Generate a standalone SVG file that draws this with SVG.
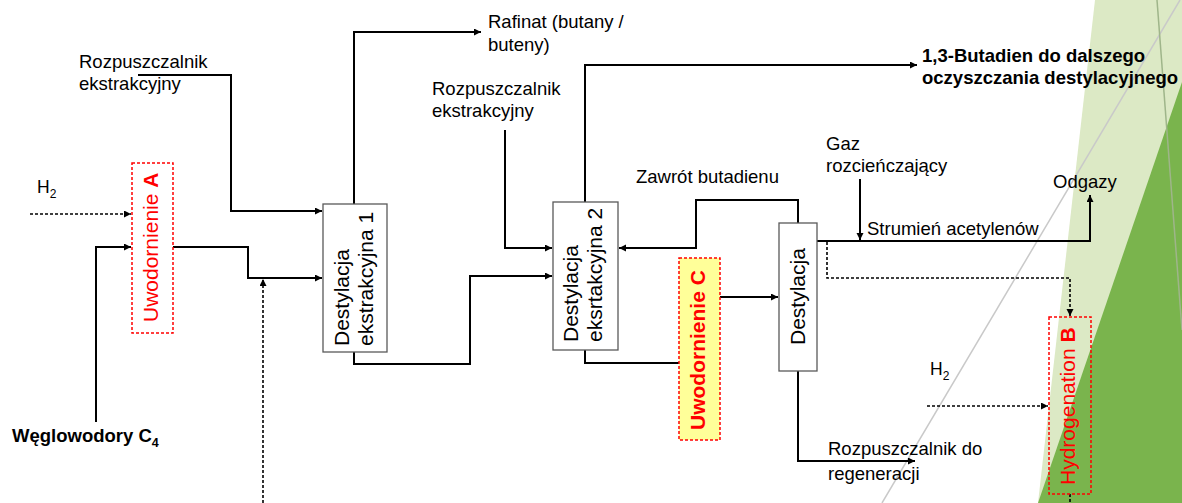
<svg xmlns="http://www.w3.org/2000/svg" width="1182" height="503" viewBox="0 0 1182 503">
<style>
text{font-family:"Liberation Sans",Arial,sans-serif;font-size:18.5px;fill:#000}
.lbl{font-size:21px}
.red{fill:#ff0000}
.b{font-weight:bold}
.box{fill:#fff;stroke:#595959;stroke-width:1.3}
.rbox{fill:none;stroke:#ff0000;stroke-width:1.5;stroke-dasharray:3,2}
.ln{fill:none;stroke:#000;stroke-width:2}
.dl{fill:none;stroke:#000;stroke-width:1.6;stroke-dasharray:3,2}
</style>
<defs>
<marker id="ah" markerUnits="userSpaceOnUse" markerWidth="8" markerHeight="8" refX="7" refY="3.5" orient="auto">
<path d="M0,0 L7,3.5 L0,7 z" fill="#000"/>
</marker>
</defs>
<rect width="1182" height="503" fill="#fff"/>
<g id="background">
<polygon points="1095,0 1182,0 1182,503 1038,503" fill="#dce9c5"/>
<polygon points="1182,82 1182,503 1038,503" fill="#7ab44d"/>
<line x1="1180" y1="0" x2="882" y2="503" stroke="#c9c9c9" stroke-width="1.5"/>
<line x1="1157" y1="0" x2="1182" y2="330" stroke="#9fb58a" stroke-width="1.5"/>
</g>
<g id="connectors">
<path class="ln" d="M138,75 H231 V211 H322" marker-end="url(#ah)"/>
<path class="dl" d="M30,214 H131" marker-end="url(#ah)"/>
<path class="ln" d="M96,422 V247 H131" marker-end="url(#ah)"/>
<path class="ln" d="M173,247 H248 V278 H322" marker-end="url(#ah)"/>
<path class="dl" d="M263,503 V279" marker-end="url(#ah)"/>
<path class="ln" d="M354,204 V32 H481" marker-end="url(#ah)"/>
<path class="ln" d="M354,352 V364 H470 V276 H552" marker-end="url(#ah)"/>
<path class="ln" d="M505,130 V248 H552" marker-end="url(#ah)"/>
<path class="ln" d="M585,202 V65 H917" marker-end="url(#ah)"/>
<path class="ln" d="M798,223 V200 H696 V248 H619" marker-end="url(#ah)"/>
<path class="ln" d="M585,350 V363 H679"/>
<path class="ln" d="M720,297 H778" marker-end="url(#ah)"/>
<path class="ln" d="M817,241 H1090 V195" marker-end="url(#ah)"/>
<path class="ln" d="M860,179 V240" marker-end="url(#ah)"/>
<path class="dl" d="M827,242 V278 H1070 V316" marker-end="url(#ah)"/>
<path class="dl" d="M927,406 H1048" marker-end="url(#ah)"/>
<path class="ln" d="M798,371 V461 H915" marker-end="url(#ah)"/>
<path class="dl" d="M1070,494 V503"/>
</g>
<g id="node-A">
<rect class="rbox" x="132" y="163" width="41" height="170"/>
<text class="lbl red" transform="translate(158,322) rotate(-90)">Uwodornienie <tspan class="b">A</tspan></text>
</g>
<g id="node-dest1">
<rect class="box" x="323" y="204" width="64" height="148"/>
<text class="lbl" transform="translate(349,346) rotate(-90)">Destylacja</text>
<text class="lbl" transform="translate(373,346) rotate(-90)">ekstrakcyjna 1</text>
</g>
<g id="node-dest2">
<rect class="box" x="553" y="202" width="65" height="148"/>
<text class="lbl" transform="translate(578,342) rotate(-90)">Destylacja</text>
<text class="lbl" transform="translate(602,342) rotate(-90)">eksrtakcyjna 2</text>
</g>
<g id="node-C">
<rect x="679" y="258" width="41" height="182" fill="#ffff99" stroke="#ff0000" stroke-width="1.5" stroke-dasharray="3,2"/>
<text class="lbl red b" transform="translate(705,430) rotate(-90)">Uwodornienie C</text>
</g>
<g id="node-dest3">
<rect class="box" x="779" y="223" width="38" height="148"/>
<text class="lbl" transform="translate(805,345) rotate(-90)">Destylacja</text>
</g>
<g id="node-B">
<rect class="rbox" x="1049" y="317" width="42" height="177"/>
<text class="lbl red" transform="translate(1075,485) rotate(-90)">Hydrogenation <tspan class="b">B</tspan></text>
</g>
<g id="labels">
<text x="79" y="68">Rozpuszczalnik</text>
<text x="79" y="90">ekstrakcyjny</text>
<text x="37" y="193" style="font-size:17.5px">H<tspan dy="5" style="font-size:12px">2</tspan></text>
<text class="b" x="12" y="442">Węglowodory C<tspan dy="5" style="font-size:12.5px">4</tspan></text>
<text x="488" y="28">Rafinat (butany /</text>
<text x="488" y="51">buteny)</text>
<text x="432" y="95">Rozpuszczalnik</text>
<text x="432" y="117">ekstrakcyjny</text>
<text x="636" y="183">Zawrót butadienu</text>
<text class="b" x="922" y="62">1,3-Butadien do dalszego</text>
<text class="b" x="922" y="84">oczyszczania destylacyjnego</text>
<text x="826" y="150">Gaz</text>
<text x="826" y="172">rozcieńczający</text>
<text x="1053" y="188">Odgazy</text>
<text x="867" y="235">Strumień acetylenów</text>
<text x="930" y="375" style="font-size:17.5px">H<tspan dy="5" style="font-size:12px">2</tspan></text>
<text x="828" y="455">Rozpuszczalnik do</text>
<text x="828" y="480">regeneracji</text>
</g>
</svg>
